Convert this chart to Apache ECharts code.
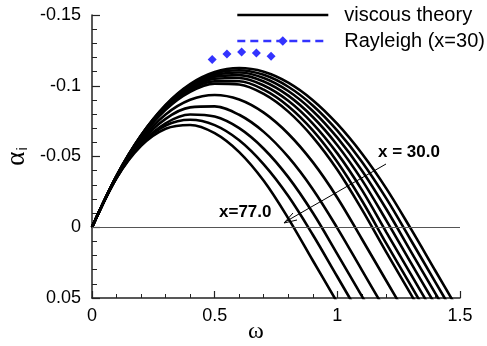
<!DOCTYPE html>
<html>
<head>
<meta charset="utf-8">
<script src="https://cdn.jsdelivr.net/npm/echarts@6/dist/echarts.min.js"></script>
<style>html,body{margin:0;padding:0;background:#fff}#c{width:487px;height:346px}</style>
</head>
<body>
<div id="c"></div>
<script>
// frequency grid (omega) shared by all viscous curves
const omega = [0, 0.1, 0.2, 0.3, 0.4, 0.5, 0.6, 0.7, 0.8, 0.9, 1.0, 1.1, 1.2, 1.3, 1.4, 1.5];
// viscous theory curves, alpha_i, from x = 30.0 (top) to x = 77.0 (bottom)
const curve01 = [0, -0.0364, -0.0650, -0.0865, -0.1012, -0.1097, -0.1125, -0.1099, -0.1022, -0.0898, -0.0730, -0.0521, -0.0273, 0.0012, 0.0309, 0.0606];
const curve02 = [0, -0.0364, -0.0649, -0.0861, -0.1006, -0.1087, -0.1110, -0.1077, -0.0993, -0.0861, -0.0683, -0.0463, -0.0202, 0.0092, 0.0389, 0.0686];
const curve03 = [0, -0.0363, -0.0647, -0.0857, -0.0999, -0.1076, -0.1094, -0.1055, -0.0963, -0.0822, -0.0633, -0.0401, -0.0127, 0.0172, 0.0469, 0.0766];
const curve04 = [0, -0.0362, -0.0644, -0.0852, -0.0990, -0.1063, -0.1075, -0.1030, -0.0930, -0.0779, -0.0580, -0.0335, -0.0047, 0.0252, 0.0549];
const curve05 = [0, -0.0360, -0.0640, -0.0845, -0.0980, -0.1049, -0.1055, -0.1002, -0.0894, -0.0733, -0.0522, -0.0264, 0.0036, 0.0333, 0.0630];
const curve06 = [0, -0.0358, -0.0635, -0.0837, -0.0968, -0.1032, -0.1032, -0.0972, -0.0855, -0.0684, -0.0461, -0.0189, 0.0116, 0.0413, 0.0710];
const curve07 = [0, -0.0357, -0.0632, -0.0830, -0.0957, -0.1015, -0.1009, -0.0942, -0.0817, -0.0637, -0.0406, -0.0126, 0.0178, 0.0475, 0.0772];
const curve08 = [0, -0.0353, -0.0617, -0.0797, -0.0901, -0.0935, -0.0903, -0.0810, -0.0661, -0.0460, -0.0209, 0.0083, 0.0380, 0.0677];
const curve09 = [0, -0.0352, -0.0604, -0.0766, -0.0847, -0.0854, -0.0795, -0.0674, -0.0497, -0.0269, 0.0006, 0.0303, 0.0600];
const curve10 = [0, -0.0350, -0.0589, -0.0735, -0.0797, -0.0782, -0.0700, -0.0555, -0.0354, -0.0102, 0.0190, 0.0487, 0.0784];
const curve11 = [0, -0.0349, -0.0588, -0.0719, -0.0760, -0.0722, -0.0615, -0.0445, -0.0221, 0.0053, 0.0350, 0.0647];
const curve12 = [0, -0.0347, -0.0575, -0.0696, -0.0723, -0.0665, -0.0531, -0.0328, -0.0063, 0.0235, 0.0532];
// Rayleigh (x=30) points
const rayleighOmega = [0.49, 0.55, 0.61, 0.67, 0.73];
const rayleighAlpha = [-0.1186, -0.1225, -0.1239, -0.1232, -0.1209];
// axis ticks
const xTicks = [0, 0.5, 1, 1.5];
const yTicks = [-0.15, -0.1, -0.05, 0, 0.05];

const curves = [curve01, curve02, curve03, curve04, curve05, curve06, curve07, curve08, curve09, curve10, curve11, curve12];
const FONT = 'Liberation Sans, Arial, Helvetica, sans-serif';

const series = curves.map((c, k) => ({
  name: 'viscous theory',
  type: 'line',
  data: c.map((a, j) => [omega[j], a]),
  smooth: 0.35,
  symbol: 'none',
  clip: true,
  itemStyle: { color: '#000' },
  lineStyle: { color: '#000', width: 2.6 },
  z: 3,
  markLine: k === 0 ? {
    silent: true, symbol: 'none', animation: false,
    label: { show: false },
    lineStyle: { color: '#555', width: 1, type: 'solid' },
    data: [{ yAxis: 0 }]
  } : undefined
}));

series.push({
  name: 'Rayleigh (x=30)',
  type: 'line',
  data: rayleighOmega.map((w, j) => [w, rayleighAlpha[j]]),
  symbol: 'diamond',
  symbolSize: 9,
  showSymbol: true,
  itemStyle: { color: '#3333ff' },
  lineStyle: { color: '#3333ff', width: 2.5, opacity: 0, type: [8, 5] },
  z: 5
});

const chart = echarts.init(document.getElementById('c'), null, { renderer: 'canvas' });
chart.setOption({
  animation: false,
  backgroundColor: '#fff',
  grid: { left: 92, right: 27, top: 15, bottom: 48, containLabel: false, outerBoundsMode: 'none' },
  legend: {
    orient: 'vertical', left: 236, top: 5, padding: 0,
    itemWidth: 91, itemHeight: 12, itemGap: 6,
    textStyle: { fontSize: 20, fontFamily: FONT, color: '#000', padding: [0, 0, 0, 11] },
    data: [
      { name: 'viscous theory', itemStyle: { opacity: 0 }, lineStyle: { opacity: 1, color: '#000', width: 2.6 } },
      { name: 'Rayleigh (x=30)', lineStyle: { opacity: 1, type: [8, 5], width: 2.5, color: '#3333ff' }, itemStyle: { color: '#3333ff' } }
    ]
  },
  xAxis: {
    type: 'value', min: xTicks[0], max: xTicks[xTicks.length - 1], interval: 0.5,
    name: 'ω', nameLocation: 'middle', nameGap: 22, nameMoveOverlap: false,
    nameTextStyle: { fontSize: 24, fontFamily: 'Liberation Serif, Times New Roman, serif', color: '#000', padding: [0, 40, 0, 0] },
    axisLine: { onZero: false, lineStyle: { color: '#222', width: 1.5 } },
    axisTick: { inside: true, length: 7, lineStyle: { color: '#222', width: 1.2 } },
    minorTick: { show: true, splitNumber: 5, length: 4, lineStyle: { color: '#222', width: 1 } },
    axisLabel: { fontSize: 18, fontFamily: FONT, color: '#000', margin: 9,
      formatter: v => String(v) },
    splitLine: { show: false }
  },
  yAxis: {
    type: 'value', inverse: true, min: yTicks[0], max: yTicks[yTicks.length - 1], interval: 0.05,
    name: '{a|α}{s|i}', nameLocation: 'middle', nameGap: 62, nameRotate: 90, nameMoveOverlap: false,
    nameTextStyle: {
      rich: {
        a: { fontSize: 27, fontFamily: 'Liberation Serif, Times New Roman, serif', color: '#000' },
        s: { fontSize: 15, fontFamily: FONT, color: '#000', padding: [12, 0, 0, 1] }
      }
    },
    axisLine: { onZero: false, lineStyle: { color: '#222', width: 1.5 } },
    axisTick: { inside: true, length: 8, lineStyle: { color: '#222', width: 1.2 } },
    minorTick: { show: true, splitNumber: 5, length: 5, lineStyle: { color: '#222', width: 1 } },
    axisLabel: { fontSize: 18, fontFamily: FONT, color: '#000', margin: 11,
      formatter: v => String(Math.round(v * 100) / 100) },
    splitLine: { show: false }
  },
  series: series,
  graphic: [
    { type: 'text', left: 378, top: 144, style: { text: 'x = 30.0', font: 'bold 17px ' + FONT, fill: '#000' } },
    { type: 'text', left: 219, top: 204, style: { text: 'x=77.0', font: 'bold 17px ' + FONT, fill: '#000' } },
    { type: 'line', shape: { x1: 386, y1: 164, x2: 285, y2: 222 }, style: { stroke: '#000', lineWidth: 1 } },
    { type: 'polyline', shape: { points: [[293, 213], [284, 223], [297, 220]] }, style: { stroke: '#000', lineWidth: 1, fill: null } }
  ]
});
</script>
</body>
</html>
